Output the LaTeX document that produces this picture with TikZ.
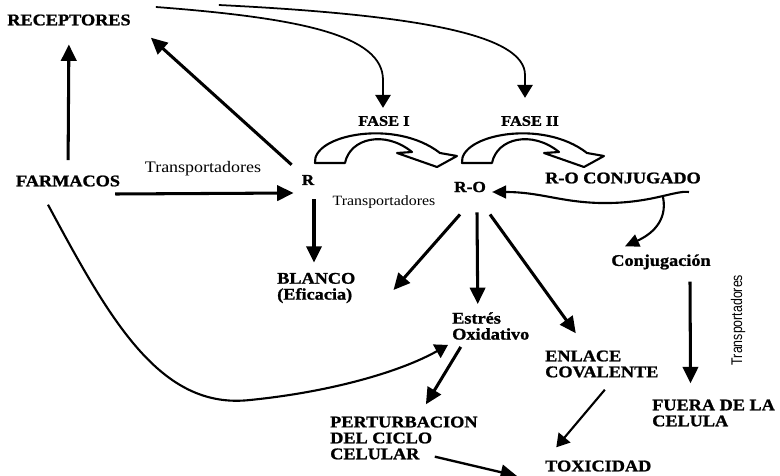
\documentclass[tikz,border=0pt]{standalone}
\usepackage{fontspec}
\setmainfont{Liberation Serif}[FakeStretch=1.12, BoldFeatures={FakeBold=1.2}]
\newfontfamily\condfont{Liberation Sans}[FakeStretch=0.8]
\usetikzlibrary{arrows.meta}

\tikzset{
  etiq/.style={font=\bfseries\fontsize{13.9}{13.6}\selectfont, inner sep=0pt, align=left},
  chica/.style={font=\bfseries\fontsize{12.5}{13}\selectfont, inner sep=0pt},
  transp/.style={font=\fontsize{13.7}{14}\selectfont, inner sep=0pt},
  flecha/.style={line width=2.6pt, -{Triangle[length=14pt,width=13pt]}},
  fina/.style={line width=1.5pt, -{Triangle[length=11pt,width=13pt]}},
  ondas/.style={line width=1.8pt, -{Triangle[length=12pt,width=11pt]}},
  bloque/.style={line width=1.8pt, fill=white, line join=round}
}

\begin{document}
\begin{tikzpicture}[x=0.03cm, y=-0.03cm]
\useasboundingbox (0,0) rectangle (780,476);

% nodos
\node[etiq] (rec) at (69,20) {RECEPTORES};
\node[etiq] (farm) at (68,181) {FARMACOS};
\node[transp] (tr1) at (203,169) {Transportadores};
\node[chica, font=\bfseries\fontsize{13}{13}\selectfont] (r) at (308,180) {R};
\node[chica] (fase1) at (384,121) {FASE I};
\node[chica] (fase2) at (530,121) {FASE II};
\node[chica, font=\bfseries\fontsize{13.2}{13}\selectfont] (ro) at (470,187) {R-O};
\node[etiq] (roc) at (623,178) {R-O CONJUGADO};
\node[transp, font=\fontsize{12.1}{12}\selectfont] (tr2) at (384,202) {Transportadores};
\node[etiq, anchor=west] (blanco) at (277,288) {BLANCO\\(Eficacia)};
\node[etiq, anchor=west] (estres) at (452,326) {Estrés\\Oxidativo};
\node[etiq, anchor=west] (enlace) at (545,364) {ENLACE\\COVALENTE};
\node[etiq] (conj) at (661,262) {Conjugación};
\node[transp, font=\condfont\fontsize{13.2}{14}\selectfont, rotate=90] (tr3) at (738,320) {Transportadores};
\node[etiq, anchor=west] (fuera) at (652,413) {FUERA DE LA\\CELULA};
\node[etiq, anchor=west] (pert) at (330,438) {PERTURBACION\\DEL CICLO\\CELULAR};
\node[etiq, anchor=west] (tox) at (545,466) {TOXICIDAD};

% flechas de bloque (fases)
\foreach \dx in {0,147}
  \draw[bloque, xshift=\dx*0.03cm] (315,163) .. controls (312,135) and (395,118) .. (440,153)
    -- (457,156) -- (437,167) -- (397,153) -- (412,152)
    .. controls (385,130) and (350,138) .. (345,163) -- cycle;

% conectores
\draw[flecha, shorten <=13pt, shorten >=16pt] (farm.north) -- (rec.south);
\draw[flecha] ([shift={(-10,-10)}]r.north west) -- ([shift={(20,12)}]rec.south east);
\draw[flecha] ([shift={(-5,13)}]farm.east) -- ([shift={(-8,13)}]r.west);
\draw[flecha] ([shift={(6,14)}]r.south) -- ([shift={(6,-10)}]r.south |- blanco.north);
\draw[fina] ([shift={(25,-13)}]rec.east) .. controls (300,18) and (383,35) .. (383,80) -- ([shift={(-1,-8)}]fase1.north);
\draw[fina] ([shift={(88,-15)}]rec.east) .. controls (420,15) and (525,35) .. (525,75) -- ([shift={(-5,-18)}]fase2.north);
\coordinate (split) at (663,197);
\draw[ondas] ([shift={(-12,14)}]roc.east) .. controls (675,190) and (650,204) .. (600,203)
  .. controls (560,202) and (540,192) .. ([shift={(6,5)}]ro.east);
\draw[ondas] (split) .. controls (668,222) and (650,235) .. ([shift={(-36,-8)}]conj.north);
\draw[flecha] ([shift={(-10,22)}]ro.south) -- ([shift={(38,2)}]blanco.east);
\draw[flecha] ([shift={(7,20)}]ro.south) -- ([shift={(-13,-8)}]estres.north);
\draw[flecha] ([shift={(20,22)}]ro.south) -- ([shift={(-26,-17)}]enlace.north);
\draw[flecha] ([shift={(-30,7)}]estres.south) -- ([shift={(22,-12)}]pert.north);
\draw[fina, line width=1.8pt] ([shift={(-20,18)}]farm.south) .. controls (110,320) and (160,410) .. (250,400)
  .. controls (330,392) and (400,372) .. ([shift={(-4,5)}]estres.south west);
\draw[fina, line width=1.8pt] ([shift={(3,12)}]enlace.south) -- ([shift={(-42,-13)}]tox.north);
\draw[flecha, line width=2pt] ([shift={(-43,-3)}]pert.south east) -- ([shift={(-28,10)}]tox.west);
\draw[flecha] ([shift={(29,12)}]conj.south) -- ([shift={(-23,-16)}]fuera.north);
\end{tikzpicture}
\end{document}
